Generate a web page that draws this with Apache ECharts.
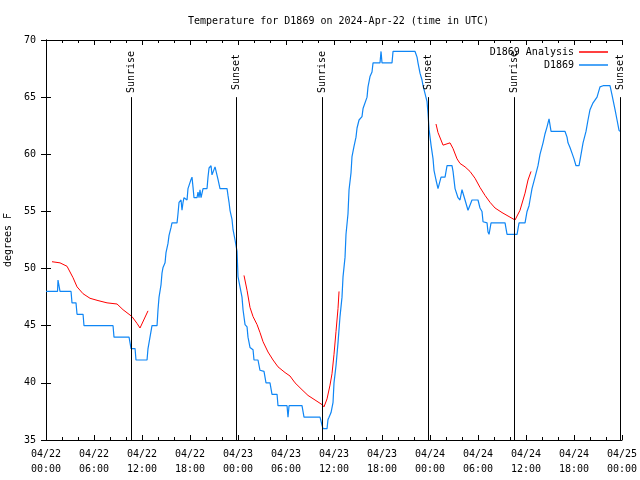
<!DOCTYPE html>
<html><head><meta charset="utf-8">
<script src="https://cdn.jsdelivr.net/npm/echarts@6/dist/echarts.min.js"></script>
<style>html,body{margin:0;padding:0;background:#fff}#c{width:640px;height:480px}</style>
</head><body><div id="c"></div>
<script>
const titleText = 'Temperature for D1869 on 2024-Apr-22 (time in UTC)';
const xTickLabels = ['04/22\n00:00','04/22\n06:00','04/22\n12:00','04/22\n18:00','04/23\n00:00','04/23\n06:00','04/23\n12:00','04/23\n18:00','04/24\n00:00','04/24\n06:00','04/24\n12:00','04/24\n18:00','04/25\n00:00'];
const seriesNames = ['D1869 Analysis', 'D1869'];
// hours since 2024-04-22 00:00 UTC
const blueHours = [0,1.44,1.5,1.63,1.75,3.13,3.25,3.75,3.88,4.63,4.75,8.38,8.5,10.38,10.63,11.13,11.25,12.63,12.75,13,13.25,13.88,14,14.13,14.38,14.5,14.63,14.88,15,15.25,15.38,15.63,15.75,16.38,16.5,16.63,16.88,17,17.13,17.25,17.63,17.75,18,18.13,18.25,18.38,18.5,18.88,19,19.13,19.25,19.38,19.63,20.13,20.25,20.38,20.63,20.75,21,21.13,21.38,21.5,21.75,22.63,22.75,22.88,23,23.25,23.38,23.63,23.88,24,24.25,24.5,24.63,24.88,25.13,25.25,25.5,25.88,26,26.5,26.75,27.25,27.5,28,28.25,28.88,29,30.13,30.25,30.38,32,32.25,34.25,34.5,34.63,35.13,35.25,35.38,35.63,35.88,36,36.25,36.5,36.75,37,37.13,37.38,37.5,37.75,37.88,38.13,38.25,38.5,38.75,38.88,39.13,39.5,39.63,39.88,40.13,40.25,40.5,40.75,40.88,41.75,41.88,42,43.25,43.38,46.13,46.38,46.5,46.75,47,47.13,47.38,47.63,47.75,47.88,48.13,48.38,48.5,48.75,49,49.13,49.38,49.88,50.13,50.75,50.88,51.13,51.38,51.5,51.75,52,52.13,52.38,52.63,52.75,53,53.25,54,54.25,54.5,54.63,55.13,55.25,55.38,55.63,57.38,57.63,58.88,59.13,59.88,60.13,60.38,60.5,60.75,61.13,61.38,61.5,61.75,62.13,62.38,62.63,62.88,63.13,64.88,65.13,65.25,65.5,65.75,66,66.25,66.63,66.88,67.13,67.5,67.75,68,68.38,68.88,69.25,69.63,70.5,70.75,71.13,71.38,71.63,71.75];
const blueTemps = [48,48,49,49,48,48,47,47,46,46,45,45,44,44,43,43,42,42,43,44,45,45,46.4,47.5,48.6,49.6,50.1,50.5,51.4,52.2,52.9,53.6,54,54,54.8,55.8,56,55.1,55.8,56.2,56,57,57,57.8,58,57.1,56.2,56.2,56.7,56.2,56.9,56.2,57,57,58,58.8,59,58.2,58.2,58.9,59,57.8,57,57,56.4,55.8,55.1,54.3,53.4,52.5,51.5,49.3,48.4,47.5,46.4,45.1,44.9,44,43.1,42.9,42,42,41.1,41,40,40,39,39,38,38,37,38,38,37,37,36.3,36,36,36.8,37,37.4,38.3,40,41.5,43.5,45.8,47.5,49.3,51,53,54.8,56.9,58.4,59.8,60.7,61.5,62.3,63,63.3,64,64,65,65.9,66.8,67.2,68,68,69,68,68,69,69,68.5,68,67.1,66.5,66,65.3,64.6,63.6,62.2,60.8,59.6,58.6,57.75,57,57,58,58,59,59,58.5,57,57,56.2,56,56.9,57,56,56,55.1,55,56,56,55.3,55,54.1,54,53.2,53,54,54,53,53,54,54,55,55.5,56,57,58,58,59,60,61,61.8,62.4,63.1,62,62,61.5,61,60.6,60.1,59.6,59,59,60,61,62,63,63.9,64.5,65,65.9,66,66,65.2,63.9,63,62.1,62];
const redHours = [0.75,1.75,2.63,3.38,3.88,4.63,5.5,6.5,7.63,8.88,9.63,10.75,11.38,11.75,12.75,18,24.75,25.13,25.5,25.88,26.38,26.75,27.13,27.75,28.38,29,29.88,30.5,31.13,32,32.75,33.63,34.5,34.75,35.13,35.5,35.75,36,36.25,36.5,36.63,42,48.75,49,49.63,50.5,50.88,51.38,51.75,52.38,53,53.63,54.25,54.88,55.5,56.13,57,57.75,58.63,59.25,59.88,60.25,60.63];
const redTemps = [50.6,50.5,50.2,49.2,48.4,47.8,47.4,47.2,47.0,46.9,46.4,45.8,45.2,44.8,46.3,null,49.4,48.1,46.6,45.8,45.1,44.4,43.6,42.7,42,41.4,40.9,40.6,40,39.4,38.9,38.5,38.1,37.9,38.6,39.8,40.8,42.5,44.5,46.5,48,null,62.65,61.9,60.8,61,60.5,59.6,59.2,58.9,58.5,57.9,57.1,56.4,55.8,55.3,54.9,54.6,54.25,55.1,56.6,57.75,58.5];
const eventHours = [10.68, 23.8, 34.53, 47.82, 58.55, 71.83];
const eventNames = ['Sunrise','Sunset','Sunrise','Sunset','Sunrise','Sunset'];

const FONT = 'DejaVu Sans Mono';
const chart = echarts.init(document.getElementById('c'), null, {renderer: 'canvas'});
const blueData = blueHours.map((h, i) => [h, blueTemps[i]]);
const redData = redHours.map((h, i) => [h, redTemps[i] === null ? '-' : redTemps[i]]);
const lineData = eventHours.map(h => [{coord: [h, 35]}, {coord: [h, 65]}]);
const labelData = eventHours.map((h, i) => [{coord: [h, 65.3], name: eventNames[i]}, {coord: [h, 69.1]}]);
const xAxisCommon = {
  type: 'value', min: 0, max: 72, interval: 6,
  axisLine: {show: true, lineStyle: {color: '#000', width: 1}},
  axisTick: {show: true, inside: true, length: 5, lineStyle: {color: '#000'}},
  minorTick: {show: true, splitNumber: 3, length: 3, lineStyle: {color: '#000'}},
  splitLine: {show: false}
};
const yAxisCommon = {
  type: 'value', min: 35, max: 70, interval: 5,
  axisLine: {show: true, lineStyle: {color: '#000', width: 1}},
  axisTick: {show: true, inside: true, length: 5, lineStyle: {color: '#000'}},
  splitLine: {show: false}
};
chart.setOption({
  animation: false,
  backgroundColor: '#fff',
  title: {text: titleText, left: 183, top: 11, textStyle: {fontFamily: FONT, fontSize: 10, fontWeight: 'normal', color: '#000'}},
  grid: {left: 46, right: 18, top: 40, bottom: 40, show: false, outerBoundsMode: 'none', containLabel: false},
  legend: {
    data: seriesNames, orient: 'vertical', right: 27, top: 41, align: 'right',
    icon: 'rect', itemWidth: 29, itemHeight: 1.5, itemGap: 1,
    textStyle: {fontFamily: FONT, fontSize: 10, color: '#000', width: 84, align: 'right', lineHeight: 12}
  },
  xAxis: [
    Object.assign({}, xAxisCommon, {position: 'bottom',
      axisLabel: {show: true, showMinLabel: true, showMaxLabel: true, margin: 7, lineHeight: 15, fontFamily: FONT, fontSize: 10, color: '#000',
        formatter: v => xTickLabels[Math.round(v / 6)] || ''}}),
    Object.assign({}, xAxisCommon, {position: 'top', axisLabel: {show: false}})
  ],
  yAxis: [
    Object.assign({}, yAxisCommon, {position: 'left', name: 'degrees F', nameLocation: 'middle', nameGap: 33, nameRotate: 90,
      nameTextStyle: {fontFamily: FONT, fontSize: 10, color: '#000'},
      axisLabel: {show: true, margin: 10, fontFamily: FONT, fontSize: 10, color: '#000'}}),
    Object.assign({}, yAxisCommon, {position: 'right', axisLabel: {show: false}})
  ],
  series: [
    {name: 'D1869', type: 'line', data: blueData, symbol: 'none', showSymbol: false,
      lineStyle: {color: '#0f86f5', width: 1.2}, itemStyle: {color: '#0f86f5'},
      markLine: {silent: true, symbol: ['none', 'none'], animation: false,
        lineStyle: {color: '#000', width: 1, type: 'solid'},
        label: {show: false},
        data: lineData}},
    {name: 'D1869 Analysis', type: 'line', data: redData, symbol: 'none', showSymbol: false, connectNulls: false,
      lineStyle: {color: '#ff0000', width: 1}, itemStyle: {color: '#ff0000'}},
    {name: 'events', type: 'line', data: [], silent: true,
      markLine: {silent: true, symbol: ['none', 'none'], animation: false,
        lineStyle: {color: 'rgba(0,0,0,0)', width: 1, type: 'solid'},
        label: {show: true, position: 'insideMiddle', distance: 0, formatter: p => p.name, fontFamily: FONT, fontSize: 10, color: '#000'},
        data: labelData}}
  ]
});
</script></body></html>
